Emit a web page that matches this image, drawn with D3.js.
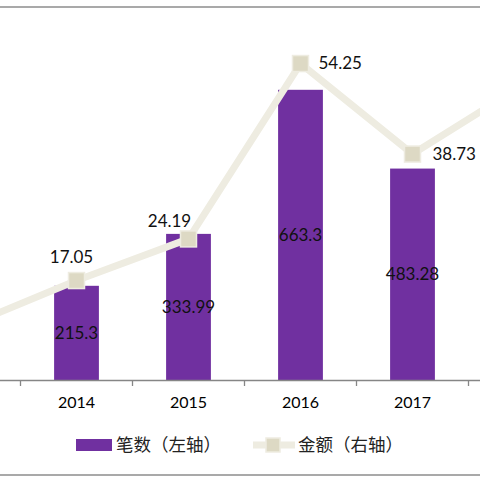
<!DOCTYPE html>
<html>
<head>
<meta charset="utf-8">
<script src="https://cdn.jsdelivr.net/npm/d3@7"></script>
<style>
  body { margin: 0; background: #fff; }
  text { font-family: Lato, "Noto Sans CJK SC", sans-serif; }
</style>
</head>
<body>
<div id="viz"></div>
<script>
const years = ["2013", "2014", "2015", "2016", "2017", "2018"];
const counts = [null, 215.3, 333.99, 663.3, 483.28, null];   // 笔数（左轴）
const amounts = [9.1, 17.05, 24.19, 54.25, 38.73, 50.7];     // 金额（右轴）
const countLabels = ["", "215.3", "333.99", "663.3", "483.28", ""];
const amountLabels = ["", "17.05", "24.19", "54.25", "38.73", ""];
const seriesNames = ["笔数（左轴）", "金额（右轴）"];

const width = 480, height = 480;
const svg = d3.select("#viz").append("svg").attr("width", width).attr("height", height);

const base = 380, plotTop = 30;
const x = d3.scaleBand().domain(years).range([-91.5, 580.5]).paddingInner(0.6).paddingOuter(0.3);
const yL = d3.scaleLinear().domain([0, 800]).range([base, plotTop]);
const yR = d3.scaleLinear().domain([0, 60]).range([base, plotTop]);

const purple = "#7030A0", lineCol = "#EEECE1", markFill = "#DDD9C4";
// label offsets from the marker centre (dx, dy, anchor), as placed in the original
const labelPos = [null, [-5, -23, "middle"], [-19, -18, "middle"], [18, 0, "start"], [20, 0, "start"], null];

// frame lines
svg.append("line").attr("x1", 0).attr("x2", width).attr("y1", 7).attr("y2", 7)
  .attr("stroke", "#8c8c8c").attr("stroke-width", 1.5);
svg.append("line").attr("x1", 0).attr("x2", width).attr("y1", 475).attr("y2", 475)
  .attr("stroke", "#8c8c8c").attr("stroke-width", 1.5);

const rows = years.map((y, i) => ({year: y, count: counts[i], amount: amounts[i], cl: countLabels[i], al: amountLabels[i], i}));

// bars
svg.selectAll("rect.bar").data(rows.filter(d => d.count != null)).enter().append("rect")
  .attr("class", "bar")
  .attr("x", d => x(d.year))
  .attr("width", x.bandwidth())
  .attr("y", d => yL(d.count))
  .attr("height", d => base - yL(d.count))
  .attr("fill", purple);

// x axis
const gap = (x.step() - x.bandwidth()) / 2;
svg.append("line").attr("x1", 0).attr("x2", width).attr("y1", base + 0.5).attr("y2", base + 0.5)
  .attr("stroke", "#868686").attr("stroke-width", 1.3);
svg.selectAll("line.tick").data(years).enter().append("line")
  .attr("class", "tick")
  .attr("x1", d => x(d) - gap).attr("x2", d => x(d) - gap)
  .attr("y1", base).attr("y2", base + 6)
  .attr("stroke", "#868686").attr("stroke-width", 1.3);
const xAxis = svg.append("g").attr("transform", `translate(0,${base})`)
  .call(d3.axisBottom(x).tickValues(years.filter((y, i) => counts[i] != null)).tickSize(0).tickPadding(17));
xAxis.select(".domain").remove();
xAxis.selectAll("text").attr("font-size", 16).attr("fill", "#000")
  .style("font-family", "Lato, sans-serif");

// bar labels
svg.selectAll("text.cl").data(rows.filter(d => d.count != null)).enter().append("text")
  .attr("class", "cl")
  .attr("x", d => x(d.year) + x.bandwidth() / 2)
  .attr("y", d => (yL(d.count) + base) / 2)
  .attr("dy", "0.35em")
  .attr("text-anchor", "middle")
  .attr("font-size", 17).attr("fill", "#111")
  .text(d => d.cl);

// line
const cx = d => x(d.year) + x.bandwidth() / 2;
const line = d3.line().x(cx).y(d => yR(d.amount));
svg.append("path").datum(rows).attr("d", line)
  .attr("fill", "none").attr("stroke", lineCol).attr("stroke-width", 7)
  .attr("stroke-linejoin", "round");
svg.selectAll("rect.mk").data(rows).enter().append("rect")
  .attr("class", "mk")
  .attr("x", d => cx(d) - 8).attr("y", d => yR(d.amount) - 8)
  .attr("width", 16).attr("height", 16)
  .attr("fill", markFill).attr("stroke", lineCol).attr("stroke-width", 1.5);

// line labels
svg.selectAll("text.al").data(rows.filter(d => d.al)).enter().append("text")
  .attr("class", "al")
  .attr("x", d => cx(d) + labelPos[d.i][0])
  .attr("y", d => yR(d.amount) + labelPos[d.i][1])
  .attr("dy", "0.35em")
  .attr("text-anchor", d => labelPos[d.i][2])
  .attr("font-size", 17).attr("fill", "#111")
  .text(d => d.al);

// legend
const lg = svg.append("g").attr("transform", "translate(0,445)");
lg.append("rect").attr("x", 76).attr("y", -6).attr("width", 36).attr("height", 12).attr("fill", purple);
lg.append("text").attr("x", 116).attr("dy", "0.35em").attr("font-size", 17.5).attr("fill", "#222")
  .style("font-family", "'Noto Sans CJK SC', sans-serif").text(seriesNames[0]);
lg.append("line").attr("x1", 253).attr("x2", 295).attr("y1", 0).attr("y2", 0)
  .attr("stroke", lineCol).attr("stroke-width", 7);
lg.append("rect").attr("x", 266).attr("y", -7).attr("width", 14).attr("height", 14)
  .attr("fill", markFill).attr("stroke", lineCol).attr("stroke-width", 1.5);
lg.append("text").attr("x", 298).attr("dy", "0.35em").attr("font-size", 17.5).attr("fill", "#222")
  .style("font-family", "'Noto Sans CJK SC', sans-serif").text(seriesNames[1]);
</script>
</body>
</html>
